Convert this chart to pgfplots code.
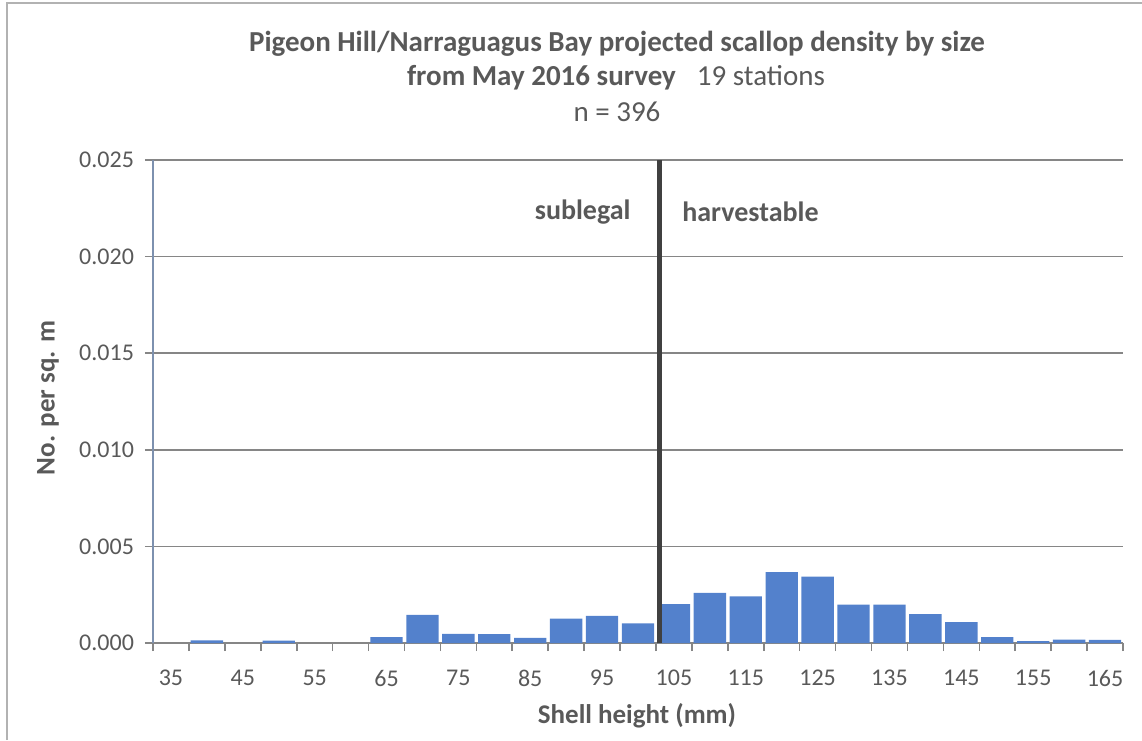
\documentclass[border=0pt]{standalone}
\usepackage{pgfplots}
\pgfplotsset{compat=1.18}
\usepackage{fontspec}
\setmainfont{Carlito}
\definecolor{txt}{RGB}{89,89,89}
\definecolor{barc}{RGB}{83,129,204}
\definecolor{gridc}{RGB}{134,134,134}
\definecolor{axc}{RGB}{125,145,175}
\definecolor{vline}{RGB}{64,64,64}
\pgfplotstableread{
idx val
1 0.00014
3 0.00012
6 0.00030
7 0.00146
8 0.00047
9 0.00046
10 0.00026
11 0.00126
12 0.00140
13 0.00102
14 0.00201
15 0.00260
16 0.00241
17 0.00367
18 0.00344
19 0.00198
20 0.00198
21 0.00150
22 0.00108
23 0.00030
24 0.00010
25 0.00017
26 0.00016
}\density
\begin{document}
\begin{tikzpicture}[x=1pt,y=1pt]
\useasboundingbox (0,0) rectangle (571,370);
\draw[gray!60, line width=0.9pt] (3.5,0) -- (3.5,368.5) -- (571,368.5);
\begin{axis}[
  at={(76.5pt,48.5pt)}, anchor=south west, scale only axis,
  width=485pt, height=241.5pt,
  xmin=-0.5, xmax=26.5, ymin=0, ymax=0.025,
  axis x line*=bottom, axis y line*=left,
  x axis line style={-, gridc, line width=0.8pt},
  y axis line style={-, axc, line width=0.8pt},
  xtick={0,2,...,26},
  xticklabels={35,45,55,65,75,85,95,105,115,125,135,145,155,165},
  minor xtick={-0.5,0.5,...,26.5},
  major x tick style={draw=none},
  minor x tick style={gridc, line width=0.8pt},
  minor tick length=4pt,
  ytick={0,0.005,...,0.025},
  y tick style={gridc, line width=0.8pt},
  major tick length=4pt,
  tick align=outside,
  scaled y ticks=false,
  yticklabel style={xshift=-2pt, /pgf/number format/.cd, fixed, fixed zerofill, precision=3, assume math mode=true},
  xticklabel style={yshift=-6pt, /pgf/number format/assume math mode=true},
  tick label style={font=\fontsize{12}{14}\selectfont, text=txt},
  ymajorgrids,
  grid style={gridc, line width=0.8pt},
  clip=false,
]
\addplot[ybar, bar width=0.9, bar shift=0pt, fill=barc, draw=none] table[x=idx, y=val] {\density};
\draw[vline, line width=2.5pt] (axis cs:13.6,0) -- (axis cs:13.6,0.025);
\node[font=\bfseries\fontsize{14}{16}\selectfont, text=txt] at (axis cs:11.46,0.0223) {sublegal};
\node[font=\bfseries\fontsize{14}{16}\selectfont, text=txt] at (axis cs:16.13,0.0223) {harvestable};
\end{axis}
\node[font=\bfseries\fontsize{14.5}{16}\selectfont, text=txt] at (308.5,348) {Pigeon Hill/Narraguagus Bay projected scallop density by size};
\node[font=\fontsize{14.5}{16}\selectfont, text=txt] at (308,331) {\textbf{from May 2016 survey}\enspace\ 19 stations};
\node[font=\fontsize{14.5}{16}\selectfont, text=txt] at (308.5,314) {n = 396};
\node[font=\bfseries\fontsize{13.5}{15}\selectfont, text=txt] at (318.5,12) {Shell height (mm)};
\node[font=\bfseries\fontsize{13.5}{15}\selectfont, text=txt, rotate=90] at (24,171) {No. per sq. m};
\end{tikzpicture}
\end{document}
